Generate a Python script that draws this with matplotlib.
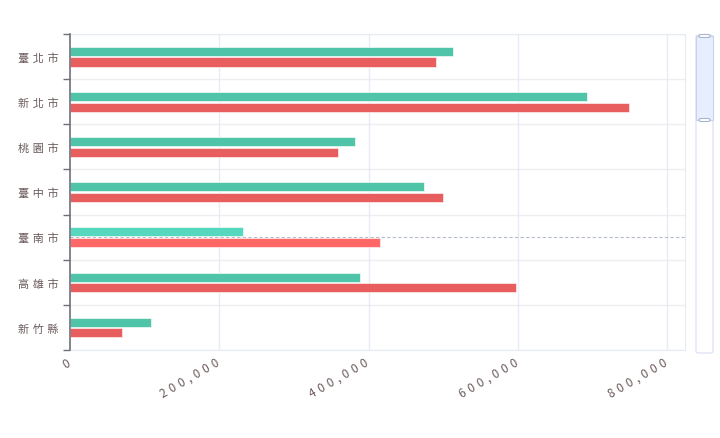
import numpy as np
import matplotlib.pyplot as plt
from matplotlib.patches import Rectangle, FancyBboxPatch
from matplotlib.transforms import ScaledTranslation

plt.rcParams['font.family'] = ['Noto Sans CJK TC', 'DejaVu Sans']

cities = ['臺北市', '新北市', '桃園市', '臺中市', '臺南市', '高雄市', '新竹縣']
green_vals = [513000, 693000, 382000, 474500, 232000, 388500, 109000]
red_vals = [490500, 749000, 359000, 500000, 415500, 597500, 69500]
xticks = [0, 200000, 400000, 600000, 800000]
highlight = '臺南市'

fig = plt.figure(figsize=(7.2, 4.39), dpi=100)
ax = fig.add_axes([70 / 720, 88 / 439, 615 / 720, 316 / 439])

y = np.arange(len(cities))
h = 0.2
for i, c in enumerate(cities):
    hot = c == highlight
    gc = '#55d8bd' if hot else '#50c4a8'
    rc = '#ff6666' if hot else '#e85d5d'
    ax.barh(y[i] - 0.115, green_vals[i], height=h, color=gc,
            edgecolor='#f4fbf9', linewidth=0.5, zorder=3)
    ax.barh(y[i] + 0.12, red_vals[i], height=h, color=rc,
            edgecolor='#fdf0f0', linewidth=0.5, zorder=3)

ax.set_ylim(len(cities) - 0.5, -0.5)
ax.set_xlim(0, 824000)

# horizontal separators at category boundaries
for b in np.arange(-0.5, len(cities), 1.0):
    ax.axhline(b, color='#eeeeee', linewidth=1, zorder=1)
for t in xticks[1:]:
    ax.axvline(t, color='#e6ebf5', linewidth=1, zorder=1)

# hover pointer line
hi = cities.index(highlight)
ax.axhline(hi, color='#b6bccb', linewidth=0.8, linestyle=(0, (3, 2)), zorder=4)

sp = '\u2004'  # letter spacing
ax.set_yticks(y)
ax.set_yticklabels([sp.join(c) for c in cities], fontsize=8, color='#6b5b5b')
ax.set_yticks(np.arange(-0.5, len(cities), 1.0), minor=True)
ax.tick_params(axis='y', which='major', length=0, pad=8)
ax.tick_params(axis='y', which='minor', length=5, color='#6e7079', width=1)

ax.set_xticks(xticks)
ax.set_xticklabels([sp.join(f'{t:,}') for t in xticks], fontsize=8.5,
                   color='#6b5b5b', rotation=30, ha='right', rotation_mode='anchor')
ax.tick_params(axis='x', length=0, pad=4)
shift = ScaledTranslation(-4 / 100, 0, fig.dpi_scale_trans)
for lab in ax.get_xticklabels():
    lab.set_transform(lab.get_transform() + shift)

for s in ['top', 'bottom', 'right']:
    ax.spines[s].set_color('#e6ebf5')
ax.spines['left'].set_color('#6e7079')
ax.spines['left'].set_linewidth(1.2)
ax.spines['left'].set_zorder(5)

# data zoom slider on the right
H = 439
fig.patches.append(FancyBboxPatch((696 / 720, (H - 354) / H), 17 / 720, 318 / H,
                                  boxstyle='round,pad=0,rounding_size=0.004',
                                  transform=fig.transFigure, facecolor='white',
                                  edgecolor='#dfe4f2', linewidth=1))
fig.patches.append(Rectangle((696 / 720, (H - 121) / H), 17 / 720, 84 / H,
                             transform=fig.transFigure, facecolor='#e6eeff',
                             edgecolor='#c8d2ea', linewidth=0.8))
for yy in [37, 121]:
    fig.patches.append(FancyBboxPatch((699 / 720, (H - yy - 1.5) / H), 11 / 720, 3 / H,
                                      boxstyle='round,pad=0,rounding_size=0.003',
                                      transform=fig.transFigure, facecolor='white',
                                      edgecolor='#a7b3cf', linewidth=0.8))

fig.savefig('out.png', dpi=100)
